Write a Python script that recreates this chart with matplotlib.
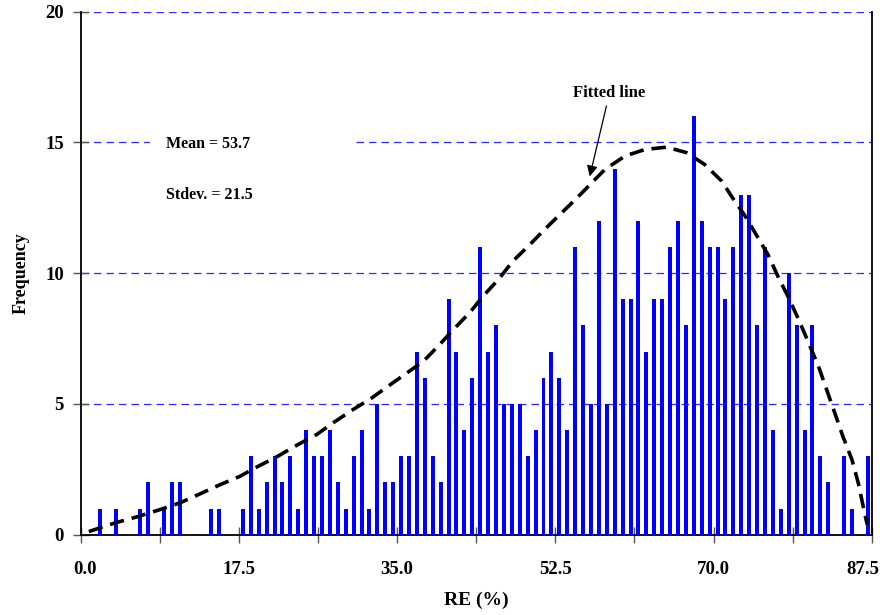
import numpy as np
import matplotlib
matplotlib.use("Agg")
from matplotlib import pyplot as plt
from matplotlib.patches import Rectangle
from matplotlib.transforms import ScaledTranslation

plt.rcParams['font.family'] = ['Liberation Serif', 'DejaVu Serif']
plt.rcParams['font.weight'] = 'bold'

# 100 RE bins of width 0.875 %, counts
bin_width = 0.875
freq = [0, 0, 1, 0, 1, 0, 0, 1, 2, 0,
        1, 2, 2, 0, 0, 0, 1, 1, 0, 0,
        1, 3, 1, 2, 3, 2, 3, 1, 4, 3,
        3, 4, 2, 1, 3, 4, 1, 5, 2, 2,
        3, 3, 7, 6, 3, 2, 9, 7, 4, 6,
        11, 7, 8, 5, 5, 5, 3, 4, 6, 7,
        6, 4, 11, 8, 5, 12, 5, 14, 9, 9,
        12, 7, 9, 9, 11, 12, 8, 16, 12, 11,
        11, 9, 11, 13, 13, 8, 11, 4, 1, 10,
        8, 4, 8, 3, 2, 0, 3, 1, 0, 3]
re_centers = (np.arange(len(freq)) + 0.5) * bin_width

# fitted curve, points
fit_x = [0.9, 3.8, 6.2, 8.6, 11.0, 13.2, 15.4, 17.6, 19.6, 21.8, 24.0, 26.1,
         28.1, 30.1, 32.2, 34.0, 36.1, 37.9, 39.7, 41.4, 43.1, 44.5, 46.2,
         47.8, 49.7, 51.3, 53.2, 54.9, 56.5, 58.0, 60.2, 62.4, 64.8, 67.0,
         69.0, 70.9, 72.1, 73.5, 74.8, 76.0, 77.1, 78.3, 79.4, 80.5, 81.6,
         82.5, 83.4, 84.3, 85.3, 86.0, 86.7, 87.0]
fit_y = [0.12, 0.45, 0.68, 0.94, 1.22, 1.56, 1.91, 2.23, 2.61, 3.0, 3.44, 3.83,
         4.32, 4.78, 5.23, 5.68, 6.19, 6.63, 7.27, 7.91, 8.52, 9.12, 9.76,
         10.46, 11.1, 11.67, 12.31, 12.88, 13.45, 13.97, 14.48, 14.73, 14.82, 14.61,
         14.16, 13.52, 12.88, 12.18, 11.42, 10.72, 9.89, 9.06, 8.23, 7.34, 6.44,
         5.55, 4.66, 3.76, 2.87, 1.98, 0.83, 0.38]

xticks = np.arange(0, 87.5 + 0.01, 8.75)
xlabels = ['0.0', '', '17.5', '', '35.0', '', '52.5', '', '70.0', '', '87.5']

fig = plt.figure(figsize=(8.8, 6.15), dpi=100)
ax = fig.add_axes([0.0917, 0.1306, 0.899, 0.8504])

ax.bar(re_centers, freq, width=0.44, color='#0000ff', zorder=3)
ax.plot(fit_x, fit_y, color='black', lw=2.6, dashes=(4, 2.2), zorder=4)

ax.set_xlim(0, 87.5)
ax.set_ylim(0, 20)
ax.set_xticks(xticks)
ax.set_xticklabels(xlabels)
ax.set_yticks([0, 5, 10, 15, 20])
ax.tick_params(direction='inout', length=12, width=1, color='#555555', labelsize=13.5)
ax.tick_params(axis='x', pad=13)
ax.tick_params(axis='y', pad=6)

# shift end labels like the original
lbls = ax.get_xticklabels()
lbls[0].set_transform(lbls[0].get_transform() + ScaledTranslation(0.04, 0, fig.dpi_scale_trans))
lbls[-1].set_transform(lbls[-1].get_transform() + ScaledTranslation(-0.09, 0, fig.dpi_scale_trans))

ax.yaxis.grid(True, color='#2a2aff', linestyle=(0, (6, 4)), lw=0.9)
ax.set_axisbelow(True)
for side in ['left', 'bottom', 'right']:
    ax.spines[side].set_color('black')
    ax.spines[side].set_linewidth(1.3)
ax.spines['top'].set_visible(False)

# white box behind the stats text
ax.add_patch(Rectangle((0.0876, 0.64), 0.259, 0.15, transform=ax.transAxes,
                       facecolor='white', edgecolor='none', zorder=2))
ax.text(0.108, 0.747, 'Mean = 53.7', transform=ax.transAxes, fontsize=11.5,
        fontweight='bold', va='center', zorder=5)
ax.text(0.108, 0.65, 'Stdev. = 21.5', transform=ax.transAxes, fontsize=11.5,
        fontweight='bold', va='center', zorder=5)

ax.annotate('Fitted line', xy=(56.3, 13.7), xytext=(58.5, 16.6),
            fontsize=12, fontweight='bold', ha='center', va='bottom',
            arrowprops=dict(arrowstyle='-|>', color='black', lw=0.9,
                            mutation_scale=16, shrinkA=2, shrinkB=0),
            zorder=6)

ax.set_xlabel('RE (%)', fontsize=14, fontweight='bold', labelpad=10)
ax.set_ylabel('Frequency', fontsize=13, fontweight='bold', labelpad=11)

fig.savefig('out.png', dpi=100)
